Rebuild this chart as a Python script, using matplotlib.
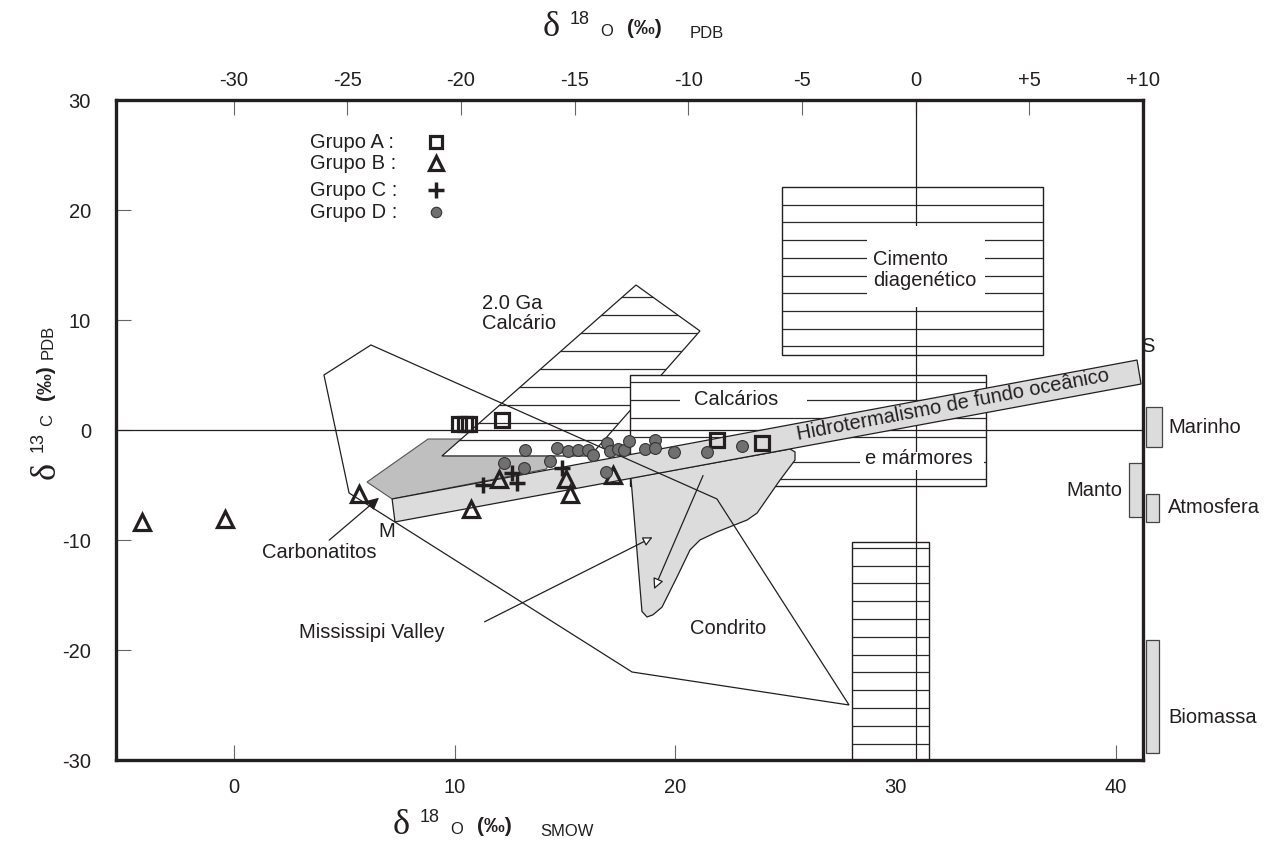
import matplotlib
import numpy as np

matplotlib.use("Agg")
import matplotlib.pyplot as plt
from matplotlib.patches import Polygon, Rectangle

# --- Data (x = d18O SMOW, y = d13C PDB) ---
GROUP_A = [(10.2, 0.55), (10.48, 0.55), (10.66, 0.55), (12.15, 0.9), (21.9, -0.9), (23.95, -1.18)]
GROUP_B = [(-4.17, -8.4), (-0.41, -8.1), (5.67, -5.8), (10.75, -7.2), (12.0, -4.45),
           (15.06, -4.45), (15.24, -5.8), (17.2, -4.1)]
GROUP_C = [(11.3, -5.0), (12.6, -3.9), (12.83, -4.8), (14.88, -3.45)]
GROUP_D = [(12.24, -3.0), (13.15, -3.45), (13.2, -1.8), (14.33, -2.8), (14.65, -1.64),
           (15.15, -1.9), (15.6, -1.8), (16.05, -1.8), (16.28, -2.3), (16.87, -3.8),
           (16.92, -1.2), (17.05, -1.9), (17.41, -1.73), (17.69, -1.8), (17.91, -1.0),
           (18.64, -1.73), (19.1, -0.9), (19.1, -1.64), (19.95, -2.0), (21.45, -2.0),
           (23.04, -1.45)]

# fields
GA20_CALCARIO = [(9.43, -2.36), (18.23, 13.18), (21.13, 9.0), (16.15, -2.36)]
DARK_FIELD = [(6.03, -4.73), (8.8, -0.82), (14.97, -0.82), (14.15, -3.55), (7.17, -6.27)]
HIDROTERMAL = [(7.17, -6.27), (40.95, 6.36), (41.13, 4.18), (7.30, -8.36)]
BLOB = [(18.0, -4.36), (18.5, -16.5), (18.73, -17.0), (19.0, -16.8), (19.41, -16.1),
        (20.09, -13.36), (20.68, -10.9), (21.13, -10.0), (21.9, -9.27), (23.27, -8.18),
        (23.72, -7.55), (24.76, -4.55), (25.44, -2.73), (25.44, -2.0), (25.22, -1.73)]
BIG_FIELD = [(4.08, 5.0), (6.21, 7.73), (21.9, -6.27), (27.89, -25.0), (18.05, -22.0),
             (5.22, -5.73)]
CIMENTO_BOX = (24.85, 6.82, 36.69, 22.09)  # x0, y0, x1, y1
CALCARIOS_BOX = (17.96, -5.09, 34.1, 5.0)
LOWER_BOX = (28.03, -30.0, 31.52, -10.18)
CALCARIOS_HATCH = [4.36, 2.73, 1.09, -0.64, -2.91, -4.45]

# reference columns at the right edge: (label, x0, x1, y0, y1)
REFERENCE_BARS = [("Marinho", 41.36, 42.09, -1.55, 2.09),
                  ("Manto", 40.59, 41.22, -7.91, -3.0),
                  ("Atmosfera", 41.36, 41.95, -8.36, -5.82),
                  ("Biomassa", 41.36, 41.95, -29.36, -19.09)]

PDB_TICKS = [-30, -25, -20, -15, -10, -5, 0, 5, 10]
PDB_LABELS = ["-30", "-25", "-20", "-15", "-10", "-5", "0", "+5", "+10"]
SMOW_TICKS = [0, 10, 20, 30, 40]
C_TICKS = [-30, -20, -10, 0, 10, 20, 30]

INK = "#231f20"
LIGHT = "#dcdcdc"
DARK = "#bfbfbf"
DOT = "#707070"

plt.rcParams["font.family"] = ["Liberation Sans", "DejaVu Sans"]
plt.rcParams["font.size"] = 14.5
plt.rcParams["axes.unicode_minus"] = False


def smow_to_pdb(x):
    return (x - 30.91) / 1.03091


def pdb_to_smow(x):
    return x * 1.03091 + 30.91


def hatch(ax, patch, levels, x0, x1, z):
    lines = ax.hlines(levels, x0, x1, colors="#2a2a2a", linewidth=0.9, zorder=z)
    lines.set_clip_path(patch)


def box_patch(ax, box, z):
    x0, y0, x1, y1 = box
    p = Rectangle((x0, y0), x1 - x0, y1 - y0, facecolor="white", edgecolor=INK,
                  linewidth=1.0, zorder=z)
    ax.add_patch(p)
    return p


def fig_text(fig, x, y, s, **kw):
    fig.text(x / 1274, 1 - y / 849, s, va="center", ha="left", color=INK, **kw)


fig = plt.figure(figsize=(12.74, 8.49), dpi=100)
ax = fig.add_axes([116 / 1274, 89 / 849, 1027 / 1274, 660 / 849])
ax.set_xlim(-5.35, 41.22)
ax.set_ylim(-30, 30)

# dark field under the 2.0 Ga polygon
ax.add_patch(Polygon(DARK_FIELD, closed=True, facecolor=DARK, edgecolor="#555555",
                     linewidth=0.8, zorder=1))

# 2.0 Ga calcario
ga = Polygon(GA20_CALCARIO, closed=True, facecolor="white", edgecolor=INK, linewidth=0.9, zorder=2)
ax.add_patch(ga)
hatch(ax, ga, 12.09 - 1.63 * np.arange(9), 9, 22, 2.1)

# cimento diagenetico + lower box
cim = box_patch(ax, CIMENTO_BOX, 2)
hatch(ax, cim, 22.09 - 1.61 * np.arange(1, 10), CIMENTO_BOX[0], CIMENTO_BOX[2], 2.1)
low = box_patch(ax, LOWER_BOX, 2)
hatch(ax, low, -10.7 - 1.62 * np.arange(12), LOWER_BOX[0], LOWER_BOX[2], 2.1)

# calcarios e marmores
cal = box_patch(ax, CALCARIOS_BOX, 3)
hatch(ax, cal, CALCARIOS_HATCH, CALCARIOS_BOX[0], CALCARIOS_BOX[2], 3.1)

# reference lines
ax.axhline(0, color=INK, linewidth=0.9, zorder=3.5)
ax.axvline(pdb_to_smow(0), color=INK, linewidth=0.9, zorder=3.5)

# gaps around labels
for x0, y0, x1, y1 in [(28.71, 11.18, 34.06, 18.55), (20.23, 2.0, 25.99, 3.45),
                       (28.39, -3.64, 34.01, -2.0)]:
    ax.add_patch(Rectangle((x0, y0), x1 - x0, y1 - y0, facecolor="white",
                           edgecolor="none", zorder=3.6))
ax.text(28.98, 14.55, "Cimento\ndiagenético", va="center", ha="left", color=INK,
        linespacing=1.1, zorder=3.7)
ax.text(22.77, 2.73, "Calcários", va="center", ha="center", color=INK, zorder=3.7)
ax.text(28.62, -2.55, "e mármores", va="center", ha="left", color=INK, zorder=3.7)

# light grey blob and the hydrothermal band
ax.add_patch(Polygon(BLOB, closed=True, facecolor=LIGHT, edgecolor=INK, linewidth=0.9, zorder=4))
ax.add_patch(Polygon(HIDROTERMAL, closed=True, facecolor=LIGHT, edgecolor=INK,
                     linewidth=0.9, zorder=5))
ax.text(32.6, 2.27, "Hidrotermalismo de fundo oceânico", rotation=10.76,
        rotation_mode="anchor", va="center", ha="center", color=INK, zorder=5.5)

# big outline field
ax.add_patch(Polygon(BIG_FIELD, closed=True, fill=False, edgecolor=INK, linewidth=0.9, zorder=6))

# arrows
ax.annotate("", xy=(6.67, -6.0), xytext=(4.22, -10.18), zorder=6,
            arrowprops=dict(arrowstyle="-|>", color=INK, lw=0.9, mutation_scale=18))
ax.annotate("", xy=(19.09, -9.64), xytext=(11.25, -17.55), zorder=6,
            arrowprops=dict(arrowstyle="-|>", ec=INK, fc="white", lw=0.9, mutation_scale=14))
ax.annotate("", xy=(19.0, -14.7), xytext=(21.32, -3.91), zorder=6,
            arrowprops=dict(arrowstyle="-|>", ec=INK, fc="white", lw=0.9, mutation_scale=16))

# field labels
ax.text(11.25, 10.6, "2.0 Ga\nCalcário", va="center", ha="left", color=INK, linespacing=1.1)
ax.text(1.27, -11.18, "Carbonatitos", va="center", ha="left", color=INK)
ax.text(2.95, -18.45, "Mississipi Valley", va="center", ha="left", color=INK)
ax.text(20.68, -18.0, "Condrito", va="center", ha="left", color=INK)
ax.text(6.94, -9.27, "M", va="center", ha="center", color=INK)
ax.text(41.45, 7.55, "S", va="center", ha="center", color=INK, clip_on=False)

# reference bars outside the frame
for label, x0, x1, y0, y1 in REFERENCE_BARS:
    ax.add_patch(Rectangle((x0, y0), x1 - x0, y1 - y0, facecolor=LIGHT, edgecolor="#444444",
                           linewidth=0.9, clip_on=False, zorder=1.5))
    if label == "Manto":
        ax.text(x0 - 0.3, (y0 + y1) / 2, label, va="center", ha="right", color=INK)
    else:
        ax.text(42.36, (y0 + y1) / 2 if label != "Biomassa" else -26.1, label,
                va="center", ha="left", color=INK, clip_on=False)

# data groups
xa, ya = zip(*GROUP_A)
ax.plot(xa, ya, ls="none", marker="s", ms=10, mfc="none", mec=INK, mew=2.3, zorder=7)
xb, yb = zip(*GROUP_B)
ax.plot(xb, yb, ls="none", marker="^", ms=11, mfc="none", mec=INK, mew=2.3, zorder=7)
xc, yc = zip(*GROUP_C)
ax.plot(xc, yc, ls="none", marker="+", ms=12, mec=INK, mew=2.5, zorder=7)
xd, yd = zip(*GROUP_D)
ax.plot(xd, yd, ls="none", marker="o", ms=8.5, mfc=DOT, mec="#333333", mew=0.8, zorder=7)

# legend drawn by hand
legend_rows = [("Grupo A :", 0.936, dict(marker="s", ms=9, mfc="none", mec=INK, mew=2.3)),
               ("Grupo B :", 0.9045, dict(marker="^", ms=10, mfc="none", mec=INK, mew=2.3)),
               ("Grupo C :", 0.8636, dict(marker="+", ms=11, mec=INK, mew=2.5)),
               ("Grupo D :", 0.830, dict(marker="o", ms=7.5, mfc=DOT, mec="#333333", mew=0.8))]
for label, yy, style in legend_rows:
    ax.text(0.189, yy, label, transform=ax.transAxes, va="center", ha="left", color=INK)
    ax.plot([0.3116], [yy], ls="none", transform=ax.transAxes, zorder=7, **style)

# axes styling
for side in ["left", "right", "top", "bottom"]:
    ax.spines[side].set_linewidth(2.4)
    ax.spines[side].set_color(INK)
ax.set_xticks(SMOW_TICKS)
ax.set_yticks(C_TICKS)
ax.tick_params(direction="in", length=11, width=0.8, color="#666666", labelcolor=INK)
ax.tick_params(axis="x", pad=13)
ax.tick_params(axis="y", pad=18)

top = ax.secondary_xaxis("top", functions=(smow_to_pdb, pdb_to_smow))
top.set_xticks(PDB_TICKS)
top.set_xticklabels(PDB_LABELS)
top.tick_params(direction="in", length=11, width=0.8, color="#666666", labelcolor=INK, pad=7)
for sp in top.spines.values():
    sp.set_visible(False)

# axis titles built from pieces
serif = ["Liberation Serif", "DejaVu Serif"]
fig_text(fig, 393, 826, "δ", fontsize=26, family=serif)
fig_text(fig, 420, 818, "18", fontsize=13)
fig_text(fig, 450, 829, "O", fontsize=12)
fig_text(fig, 477, 826, "(‰)", fontsize=15, fontweight="bold")
fig_text(fig, 540, 832, "SMOW", fontsize=12)

fig_text(fig, 543, 28, "δ", fontsize=26, family=serif)
fig_text(fig, 570, 20, "18", fontsize=13)
fig_text(fig, 600, 31, "O", fontsize=12)
fig_text(fig, 627, 28, "(‰)", fontsize=15, fontweight="bold")
fig_text(fig, 690, 34, "PDB", fontsize=12)

for y, s, size, dx, kw in [(470, "δ", 26, 46, dict(family=serif)), (442, "13", 13, 38, {}),
                           (420, "C", 12, 48, {}), (383, "(‰)", 15, 46, dict(fontweight="bold")),
                           (342, "PDB", 12, 48, {})]:
    fig.text(dx / 1274, 1 - y / 849, s, rotation=90, va="center", ha="center",
             fontsize=size, color=INK, **kw)

fig.savefig("out.png", dpi=100)
